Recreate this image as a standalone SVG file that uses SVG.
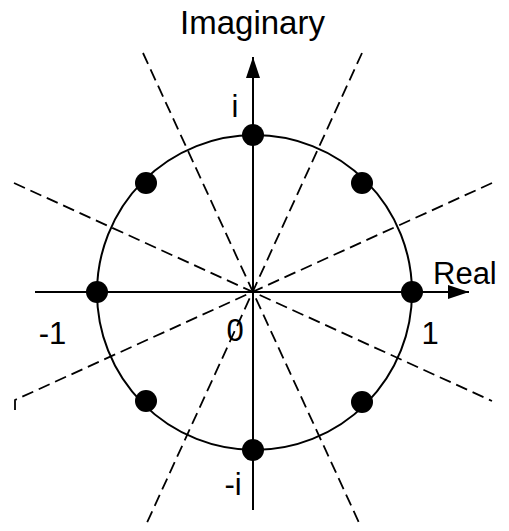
<svg xmlns="http://www.w3.org/2000/svg" width="509" height="531" viewBox="0 0 509 531">
<style>
.dash{fill:none;stroke:#000;stroke-width:1.8;stroke-dasharray:12 6}
.axis{fill:none;stroke:#000;stroke-width:2}
.circ{fill:none;stroke:#000;stroke-width:2}
.dot{fill:#000}
.lbl{font-family:"Liberation Sans",Arial,Helvetica,sans-serif;font-size:31px;fill:#000}
</style>
<defs>
<marker id="arr" markerUnits="userSpaceOnUse" markerWidth="22" markerHeight="14" refX="21" refY="7" orient="auto">
<path d="M0,0 L21,7 L0,14 Z" fill="#000"/>
</marker>
</defs>
<g id="connectors">
<line class="dash" x1="143" y1="53" x2="361" y2="527"/>
<line class="dash" x1="362" y1="53" x2="145" y2="527"/>
<line class="dash" x1="14" y1="183" x2="492" y2="401"/>
<polyline class="dash" points="492,183 15,400 15,411"/>
<line id="real-axis" class="axis" x1="35" y1="292" x2="469" y2="292" marker-end="url(#arr)"/>
<line id="imag-axis" class="axis" x1="253" y1="510" x2="253" y2="57" marker-end="url(#arr)"/>
</g>
<g id="unit-circle"><circle class="circ" cx="254.5" cy="292.5" r="157.5"/></g>
<g id="p-i"><circle class="dot" cx="253" cy="135" r="11"/></g>
<g id="p-1"><circle class="dot" cx="412" cy="292" r="11"/></g>
<g id="p-neg1"><circle class="dot" cx="97" cy="292" r="11"/></g>
<g id="p-negi"><circle class="dot" cx="253" cy="450" r="11"/></g>
<g id="p-q1"><circle class="dot" cx="362" cy="183" r="11"/></g>
<g id="p-q2"><circle class="dot" cx="146" cy="183" r="11"/></g>
<g id="p-q3"><circle class="dot" cx="146" cy="401" r="11"/></g>
<g id="p-q4"><circle class="dot" cx="362" cy="402" r="11"/></g>
<g id="labels">
<text class="lbl" x="252.5" y="34" text-anchor="middle" style="font-size:33px">Imaginary</text>
<text class="lbl" x="235" y="117" text-anchor="middle">i</text>
<text class="lbl" x="433" y="284">Real</text>
<text class="lbl" x="52.5" y="344" text-anchor="middle">-1</text>
<text class="lbl" x="430" y="344" text-anchor="middle">1</text>
<text class="lbl" x="235" y="341" text-anchor="middle">0</text>
<text class="lbl" x="233" y="495" text-anchor="middle">-i</text>
</g>
</svg>
